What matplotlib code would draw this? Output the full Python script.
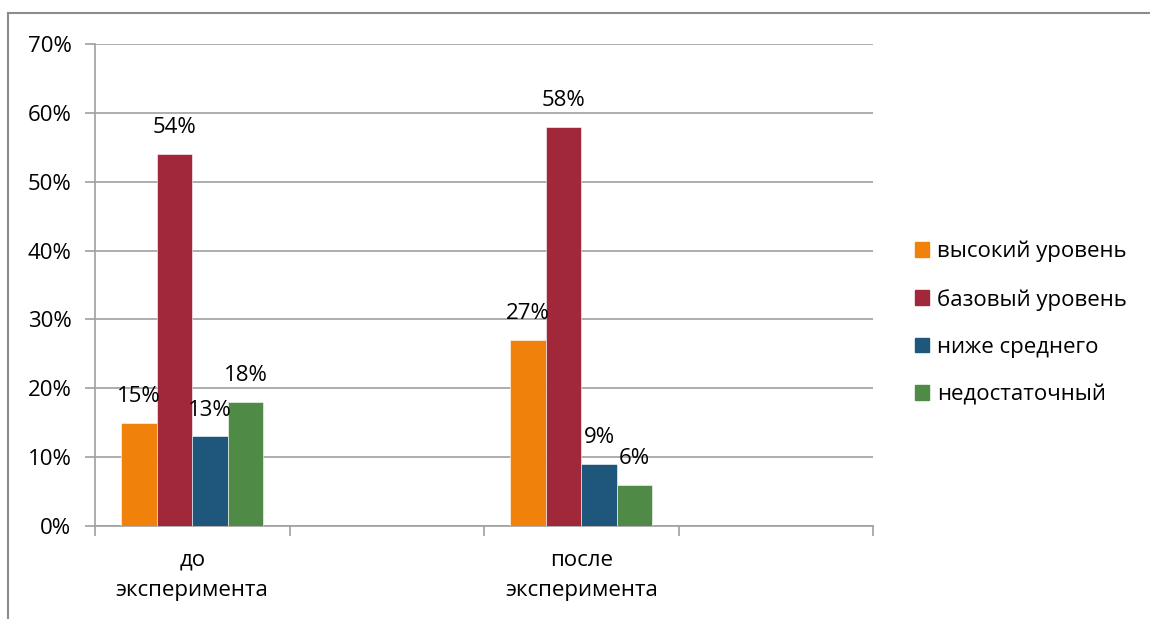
import matplotlib
matplotlib.use("Agg")
import matplotlib.pyplot as plt
import numpy as np
from matplotlib.patches import Rectangle
from matplotlib.lines import Line2D

categories = ["до\nэксперимента", "", "после\nэксперимента", ""]
series_names = ["высокий уровень", "базовый уровень", "ниже среднего", "недостаточный"]
high = [0.15, np.nan, 0.27, np.nan]
base = [0.54, np.nan, 0.58, np.nan]
below = [0.13, np.nan, 0.09, np.nan]
insufficient = [0.18, np.nan, 0.06, np.nan]
colors = ["#F0820C", "#A0283A", "#1F577C", "#4F8A47"]
yticks = [0, 0.1, 0.2, 0.3, 0.4, 0.5, 0.6, 0.7]
ytick_labels = ["0%", "10%", "20%", "30%", "40%", "50%", "60%", "70%"]

plt.rcParams['font.family'] = ['Open Sans', 'DejaVu Sans']
FS = 16

fig = plt.figure(figsize=(11.5, 6.19), dpi=100)
ax = fig.add_axes([95/1150, 1-526/619, (873-95)/1150, (526-44)/619])

x = np.arange(len(categories))
w = 0.1825
series = [high, base, below, insufficient]
for i, (vals, name, c) in enumerate(zip(series, series_names, colors)):
    pos = x + (i - 1.5) * w
    ax.bar(pos, vals, width=w, color=c, label=name, zorder=3,
           edgecolor='white', linewidth=0.4)
    for p, v in zip(pos, vals):
        if not np.isnan(v):
            ax.annotate(f"{int(round(v*100))}%", (p, v), xytext=(0, 19),
                        textcoords='offset points', ha='center', va='center',
                        fontsize=FS, zorder=5)

ax.set_xlim(-0.5, len(categories) - 0.5)
ax.set_ylim(0, 0.7)
ax.set_yticks(yticks)
ax.set_yticklabels(ytick_labels, fontsize=FS)
ax.yaxis.grid(True, color='#A0A0A0', linewidth=1.2, zorder=0)
ax.tick_params(axis='y', length=7, color='#A0A0A0', width=1.2, pad=10)
ax.set_xticks(x)
ax.set_xticklabels(categories, fontsize=FS, linespacing=1.6)
ax.tick_params(axis='x', which='major', length=0, pad=17)
ax.set_xticks(np.arange(-0.5, len(categories), 1.0), minor=True)
ax.tick_params(axis='x', which='minor', length=7, color='#A0A0A0', width=1.2)
for s in ['top', 'right']:
    ax.spines[s].set_visible(False)
for s in ['left', 'bottom']:
    ax.spines[s].set_color('#A0A0A0')
    ax.spines[s].set_linewidth(1.2)

handles = [Rectangle((0, 0), 1, 1, color=c) for c in colors]
fig.legend(handles, series_names, loc='center left',
           bbox_to_anchor=(895/1150, 1-323/619), frameon=False, fontsize=FS,
           handlelength=0.65, handleheight=0.65, handletextpad=0.35,
           labelspacing=1.18)

# outer chart frame (left and top edges)
fig.add_artist(Line2D([8/1150, 8/1150], [0, 1-13/619], transform=fig.transFigure,
                      color='#8C8C8C', linewidth=1.5))
fig.add_artist(Line2D([8/1150, 1], [1-13/619, 1-13/619], transform=fig.transFigure,
                      color='#8C8C8C', linewidth=1.5))

fig.savefig("out.png", dpi=100, facecolor='white')
